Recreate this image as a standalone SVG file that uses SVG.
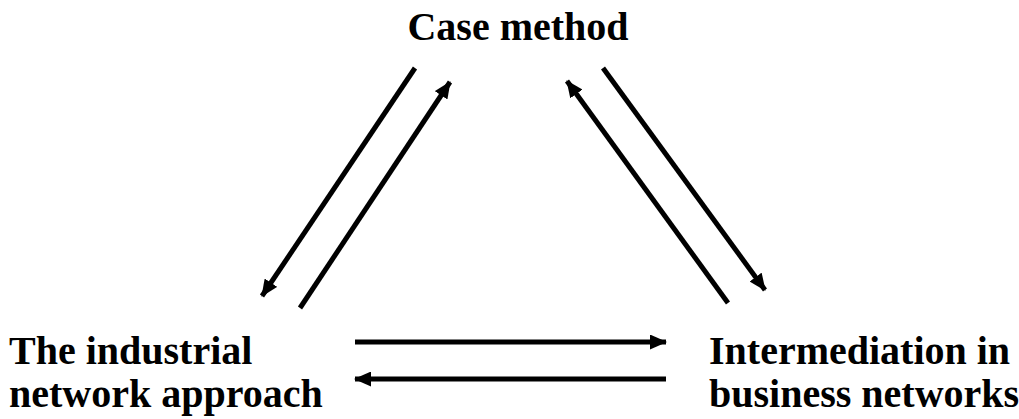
<svg xmlns="http://www.w3.org/2000/svg" width="1019" height="419" viewBox="0 0 1019 419">
  <style>
    .label { font-family: "Liberation Serif", "Times New Roman", serif; font-weight: bold; font-size: 40px; fill: #000; }
    .link { stroke: #000; stroke-width: 5; fill: none; marker-end: url(#head); }
  </style>
  <defs>
    <marker id="head" markerUnits="userSpaceOnUse" markerWidth="17" markerHeight="15" refX="16" refY="7.5" orient="auto">
      <path d="M0,0 L17,7.5 L0,15 Z" fill="#000"/>
    </marker>
  </defs>
  <rect width="1019" height="419" fill="#fff"/>

  <g id="case-method">
    <text class="label" x="518" y="40" text-anchor="middle">Case method</text>
  </g>
  <g id="industrial-network-approach">
    <text class="label" x="9" y="364">The industrial</text>
    <text class="label" x="9" y="407">network approach</text>
  </g>
  <g id="intermediation">
    <text class="label" x="709" y="364">Intermediation in</text>
    <text class="label" x="709" y="407">business networks</text>
  </g>

  <g id="connectors">
    <line class="link" x1="415" y1="68" x2="262" y2="296"/>
    <line class="link" x1="300" y1="308" x2="450" y2="82"/>
    <line class="link" x1="728" y1="303" x2="567" y2="81"/>
    <line class="link" x1="603" y1="68" x2="765" y2="290"/>
    <line class="link" x1="355" y1="342" x2="666" y2="342"/>
    <line class="link" x1="666" y1="379" x2="355" y2="379"/>
  </g>
</svg>
